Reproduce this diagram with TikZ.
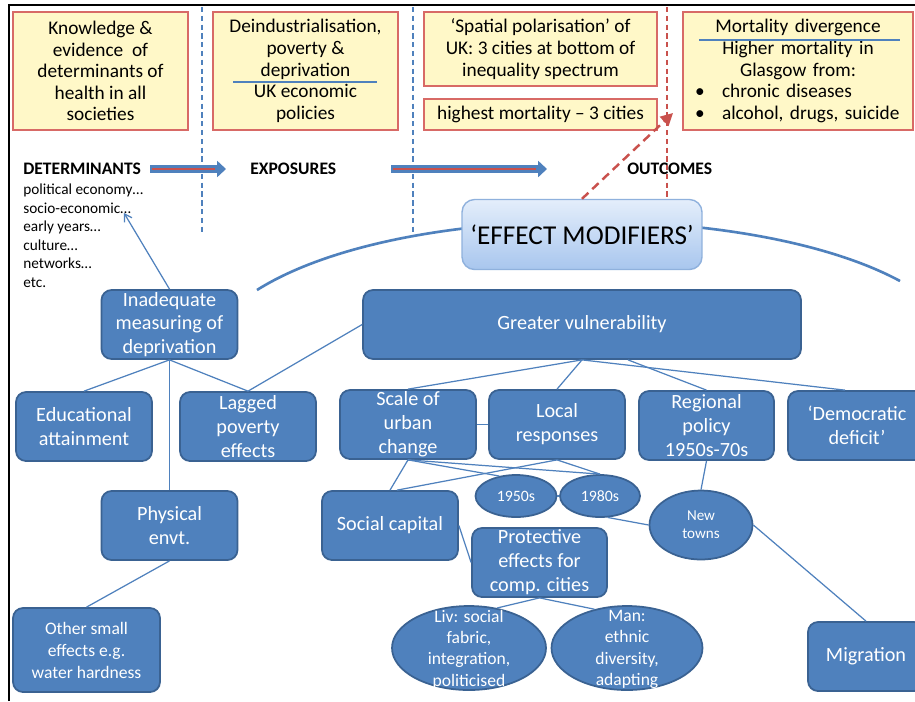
\documentclass[tikz,border=0pt]{standalone}
\usepackage{fontspec}
\setmainfont{Carlito}
\usetikzlibrary{shapes.geometric,arrows.meta}
\setlength{\parindent}{0pt}

\definecolor{boxblue}{HTML}{4F81BD}
\definecolor{boxedge}{HTML}{3A6292}
\definecolor{paleyellow}{HTML}{FFF8C8}
\definecolor{edgered}{HTML}{D86A66}
\definecolor{arrowred}{HTML}{C9514D}
\definecolor{modtop}{HTML}{E4EEFB}
\definecolor{modbot}{HTML}{A8C6EE}
\definecolor{modedge}{HTML}{8FB1DD}

\begin{document}
\begin{tikzpicture}[x=0.02cm, y=-0.02cm,
	topbox/.style={draw=edgered, fill=paleyellow, line width=0.8pt, inner sep=0pt, font=\fontsize{11}{12.3}\selectfont},
	bluebox/.style={draw=boxedge, fill=boxblue, line width=1pt, rounded corners=0.2cm, text=white, align=center, inner sep=0pt, minimum width=2.72cm, minimum height=1.38cm, font=\fontsize{11.5}{13.6}\selectfont},
	oval/.style={ellipse, draw=boxedge, fill=boxblue, line width=1pt, text=white, align=center, inner sep=0pt},
	ovaltext/.style={text=white, align=center, yshift=-0.03cm, font=\fontsize{10}{12.2}\selectfont},
	link/.style={draw=boxblue, line width=0.7pt},
	sep/.style={line width=0.7pt, dash pattern=on 3pt off 2pt},
	heading/.style={anchor=west, inner sep=0pt, font=\bfseries\fontsize{10}{12}\selectfont}
	]
	\useasboundingbox (0,0) rectangle (915,701);
	\clip (0,0) rectangle (915,701);
	\fill[white] (0,0) rectangle (915,701);
	\draw[black, line width=1pt] (9,701) -- (9,5) -- (915,5);
	
	% Separadores de columnas
	\draw[boxblue, sep] (202,7) -- (202,235);
	\draw[boxblue, sep] (413,7) -- (413,232);
	\draw[arrowred, sep] (667,7) -- (667,200);
	
	% Cajas superiores
	\node[topbox, align=center, minimum width=3.5cm, minimum height=2.36cm] (know) at (100.5,71) {Knowledge \&\\evidence \ of\\determinants of\\health in all\\societies};
	\node[topbox, align=center, minimum width=3.7cm, minimum height=2.36cm] (deind) at (305.5,71) {Deindustrialisation,\\poverty \&\\deprivation\\UK economic\\policies};
	\draw[boxblue, line width=0.7pt] (233,82) -- (377,82);
	\node[topbox, align=center, minimum width=4.66cm, minimum height=1.48cm] (spatial) at (540.5,49) {‘Spatial polarisation’ of\\UK: 3 cities at bottom of\\inequality spectrum};
	\node[topbox, align=center, minimum width=4.66cm, minimum height=0.62cm] (highest) at (540.5,114.5) {highest mortality -- 3 cities};
	\node[topbox, inner xsep=0.24cm, text width=4.12cm, minimum height=2.36cm] (mort) at (798,71) {{\centering Mortality divergence\\Higher mortality in\\Glasgow from:\par}\makebox[0.54cm][l]{\textbullet}chronic diseases\\\makebox[0.54cm][l]{\textbullet}alcohol, drugs, suicide};
	\draw[boxblue, line width=0.7pt] (699,40) -- (900,40);
	
	% Titulos de columnas
	\node[heading] (det) at (23,169) {DETERMINANTS};
	\node[heading] (exp) at (250,169) {EXPOSURES};
	\node[heading] (out) at (627,169) {OUTCOMES};
	\node[anchor=north west, align=left, inner sep=0pt, font=\fontsize{8.7}{10.5}\selectfont] (detlist) at (23,184) {political economy…\\socio-economic…\\early years…\\culture…\\networks…\\etc.};
	\coordinate (socio) at (124,213);
	
	% Flechas gruesas
	\coordinate (a1) at (150,169);
	\coordinate (b1) at (226,169);
	\coordinate (a2) at (391,169);
	\coordinate (b2) at (547,169);
	\foreach \s/\t in {a1/b1, a2/b2}{
		\draw[boxblue, line width=4.2pt, -{Triangle[length=5pt, width=9pt]}] (\s) -- (\t);
		\draw[arrowred, line width=1.6pt] ([xshift=1pt]\s) -- ([xshift=-6pt]\t);
	}
	
	% Arco y modificadores
	\coordinate (arcL) at (257,290);
	\coordinate (arcR) at (900,281);
	\draw[boxblue, line width=1.5pt] (arcL) .. controls (400,200) and (750,200) .. (arcR);
	\node[draw=modedge, top color=modtop, bottom color=modbot, rounded corners=0.25cm, line width=0.8pt, minimum width=4.8cm, minimum height=1.4cm, font=\fontsize{15.5}{18}\selectfont] (effect) at (582,234.5) {‘EFFECT MODIFIERS’};
	\coordinate (outtip) at (673,113);
	\draw[arrowred, line width=1.4pt, dash pattern=on 5pt off 3pt, -{Triangle[length=7pt, width=7pt]}] (effect.north) -- (outtip);
	
	% Cajas azules
	\node[bluebox] (inad) at (169.5,324.5) {Inadequate\\measuring of\\deprivation};
	\node[bluebox, minimum width=8.76cm] (greater) at (582,324.5) {Greater vulnerability};
	\node[bluebox] (educ) at (84,426.5) {Educational\\attainment};
	\node[bluebox] (lagged) at (248,426.5) {Lagged\\poverty\\effects};
	\node[bluebox] (scale) at (408,424.5) {Scale of\\urban\\change};
	\node[bluebox] (local) at (557,424.5) {Local\\responses};
	\node[bluebox, minimum width=2.7cm] (regional) at (706.5,425.5) {Regional\\policy\\1950s-70s};
	\node[bluebox, minimum width=2.76cm] (democ) at (857,425.5) {‘Democratic\\deficit’};
	\node[bluebox] (phys) at (169.5,525.5) {Physical\\envt.};
	\node[bluebox] (social) at (390,525.5) {Social capital};
	\node[bluebox, minimum width=2.7cm] (protect) at (539.5,562.5) {Protective\\effects for\\comp. cities};
	\node[bluebox, minimum width=2.94cm, minimum height=1.68cm, font=\fontsize{10}{12.5}\selectfont] (other) at (86.5,650) {Other small\\effects e.g.\\water hardness};
	\node[bluebox, minimum width=2.32cm] (migr) at (866,656.5) {Migration};
	
	% Ovalos
	\node[oval, minimum width=1.62cm, minimum height=0.84cm, font=\fontsize{9}{11}\selectfont] (e50) at (516,496) {1950s};
	\node[oval, minimum width=1.6cm, minimum height=0.84cm, font=\fontsize{9}{11}\selectfont] (e80) at (600,496) {1980s};
	\node[oval, minimum width=2.06cm, minimum height=1.38cm, font=\fontsize{8.6}{10.3}\selectfont] (newt) at (701,525) {New\\towns};
	\node[oval, minimum width=3.08cm, minimum height=1.68cm, label={[ovaltext]center:{Liv: social\\fabric,\\integration,\\politicised}}] (liv) at (469,648) {};
	\node[oval, minimum width=3.02cm, minimum height=1.68cm, label={[ovaltext]center:{Man:\\ethnic\\diversity,\\adapting}}] (man) at (627,648) {};
	
	% Conexiones
	\draw[link, -{Straight Barb[length=4pt, width=5pt]}] (inad.north) -- (socio);
	\draw[link] (inad.south) -- (educ.north);
	\draw[link] (inad.south) -- (lagged.north);
	\draw[link] (inad.south) -- (phys.north);
	\draw[link] (phys.south) -- (other.north);
	\draw[link] (greater.west) -- (lagged.north);
	\draw[link] (greater.south) -- (scale.north);
	\draw[link] (greater.south) -- (local.north);
	\draw[link] (greater.south) -- ([xshift=-0.24cm]democ.north);
	\draw[link] ([xshift=0.92cm]greater.south) -- (regional.north);
	\draw[link] (scale.east) -- (local.west);
	\draw[link] (scale.south) -- (social.north);
	\draw[link] (scale.south) -- (e50.130);
	\draw[link] (scale.south) -- (e80.north);
	\draw[link] (local.south) -- ([xshift=0.14cm]social.north);
	\draw[link] (local.south) -- (e80.north);
	\draw[link] (e50.east) -- (e80.west);
	\draw[link] (e80.290) -- (newt.west);
	\draw[link] (regional.south) -- (newt.north);
	\draw[link] (newt.east) -- (migr.north);
	\draw[link] (social.east) -- (protect.west);
	\draw[link] (protect.south) -- (liv.55);
	\draw[link] (protect.south) -- (man.130);
\end{tikzpicture}
\end{document}
